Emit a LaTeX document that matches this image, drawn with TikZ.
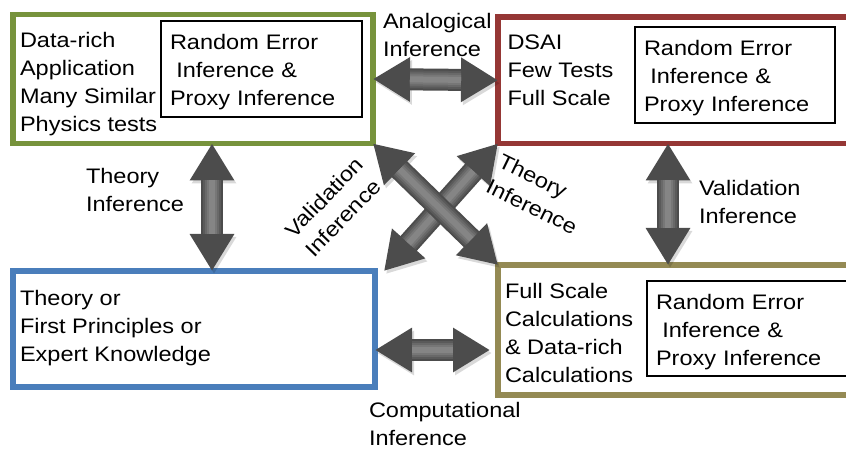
\documentclass[tikz,border=0pt]{standalone}
\usepackage{fontspec}
\setmainfont{Liberation Sans}[FakeStretch=1.12]
\usepackage{tikz}
\usetikzlibrary{arrows.meta, positioning, calc, shadows}
\definecolor{boxgreen}{RGB}{119,147,60}
\definecolor{boxred}{RGB}{149,55,53}
\definecolor{boxblue}{RGB}{74,126,187}
\definecolor{boxolive}{RGB}{148,138,84}
\definecolor{arrowdark}{RGB}{76,76,76}

\begin{document}
\begin{tikzpicture}[
    x=1pt, y=-1pt,
    font=\fontsize{21}{28}\selectfont,
    frame/.style={rectangle, draw, line width=5.5pt, fill=white, outer sep=0pt, inner sep=0pt,
        drop shadow={opacity=0.15, shadow xshift=1.5pt, shadow yshift=-2pt}},
    errbox/.style={rectangle, draw=black, line width=1.6pt, fill=white, outer sep=0pt,
        inner xsep=9pt, inner ysep=0pt, align=left, text height=21.5pt, minimum height=96pt},
    txt/.style={inner sep=0pt, outer sep=0pt, align=left},
    lbl/.style={txt, anchor=north west},
    shaft/.style={arrows=-, shorten <=37pt, shorten >=37pt},
    bigarrow/.style={line width=22pt, draw=arrowdark,
        {Triangle[length=37pt,width=42pt]}-{Triangle[length=37pt,width=42pt]},
        preaction={draw=black, opacity=0.15, transform canvas={xshift=2pt, yshift=-3pt}},
        postaction={shaft, draw=arrowdark!92, line width=18pt},
        postaction={shaft, draw=arrowdark!84, line width=14pt},
        postaction={shaft, draw=arrowdark!76, line width=10pt},
        postaction={shaft, draw=arrowdark!68, line width=6pt}}
]
\useasboundingbox (0,0) rectangle (846,449);
\clip (0,0) rectangle (846,449);

% the four frames
\node[frame, draw=boxgreen, minimum width=360pt, minimum height=129pt] (data) at (193,79) {};
\node[frame, draw=boxred, minimum width=354pt, minimum height=126.5pt] (dsai) at (675,80.25) {};
\node[frame, draw=boxblue, minimum width=362pt, minimum height=116pt] (theory) at (194,329) {};
\node[frame, draw=boxolive, minimum width=354pt, minimum height=130pt] (calc) at (675,330) {};

% frame texts
\node[txt, below right=17.5pt and 7pt of data.north west] (datatxt) {Data-rich\\Application\\Many Similar\\Physics tests};
\node[txt, below right=18pt and 9.5pt of dsai.north west] (dsaitxt) {DSAI\\Few Tests\\Full Scale};
\node[txt, below right=19pt and 7pt of theory.north west] (theorytxt) {Theory or\\First Principles or\\Expert Knowledge};
\node[txt, below right=18pt and 7pt of calc.north west] (calctxt) {Full Scale\\Calculations\\\& Data-rich\\Calculations};

% random error boxes
\node[errbox, text width=183pt, below right=6.5pt and 148pt of data.north west] (dataerr) {Random Error\\\hspace*{.3em}Inference \&\\Proxy Inference};
\node[errbox, text width=182pt, below right=10pt and 137pt of dsai.north west] (dsaierr) {Random Error\\\hspace*{.3em}Inference \&\\Proxy Inference};
\node[errbox, text width=193pt, minimum height=95pt, below right=16pt and 149pt of calc.north west] (calcerr) {Random Error\\\hspace*{.3em}Inference \&\\Proxy Inference};

% inference arrows
\draw[bigarrow] (data.east) -- (dsai.west);
\draw[bigarrow] ([xshift=19pt]data.south) -- ([xshift=19pt]data.south |- theory.north);
\draw[bigarrow] ([xshift=-7pt]dsai.south) -- ([xshift=-7pt]calc.north);
\draw[bigarrow] ($(theory.east)+(0,21)$) -- ($(theory.east -| calc.west)+(-8,21)$);
\draw[bigarrow] (dsai.south west) -- ([xshift=9pt]theory.north east);
\draw[bigarrow] (data.south east) -- (calc.north west);

% arrow labels
\node[lbl] (analog) at (383,13) {Analogical\\Inference};
\node[lbl] (theorylbl) at (86,168) {Theory\\Inference};
\node[lbl] (validlbl) at (699,180) {Validation\\Inference};
\node[lbl] (complbl) at (369,402) {Computational\\Inference};
\node[txt, rotate=46] (validcross) at (334,207) {Validation\\Inference};
\node[txt, rotate=-26] (theorycross) at (538,194) {Theory\\Inference};

\end{tikzpicture}
\end{document}
